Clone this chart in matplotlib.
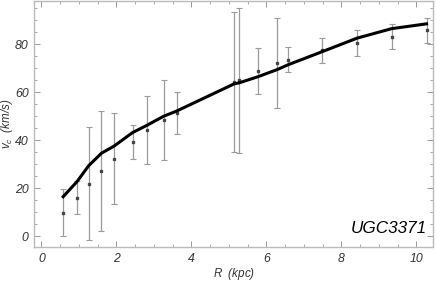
import numpy as np
import matplotlib
matplotlib.use("Agg")
matplotlib.rcParams.update({
    "font.family": ["Liberation Sans", "DejaVu Sans"],
    "mathtext.fontset": "custom",
    "mathtext.rm": "Liberation Sans",
    "mathtext.it": "Liberation Sans:italic",
})
import matplotlib.pyplot as plt
from matplotlib.ticker import MultipleLocator

# observed rotation curve of UGC3371
r_obs = [0.58, 0.95, 1.26, 1.60, 1.94, 2.43, 2.81, 3.26, 3.61,
         5.14, 5.27, 5.78, 6.28, 6.57, 7.47, 8.41, 9.34, 10.27]
v_obs = [9.8, 16.1, 21.9, 27.1, 32.4, 39.4, 44.2, 48.5, 51.2,
         64.2, 65.1, 68.9, 72.1, 73.6, 77.5, 80.5, 83.2, 85.8]
v_err = [9.8, 7.0, 23.5, 24.9, 19.0, 7.1, 14.1, 16.8, 8.7,
         29.1, 30.2, 9.6, 18.8, 5.3, 5.2, 5.3, 5.2, 5.3]

# model curve
v_fit = [16.5, 22.8, 29.4, 34.6, 37.6, 43.2, 46.2, 50.0, 52.2,
         63.5, 63.9, 66.5, 69.4, 71.4, 76.8, 82.5, 86.5, 88.5]

galaxy = "UGC3371"

fig = plt.figure(figsize=(4.36, 2.82), dpi=100)
ax = fig.add_axes([0.0787, 0.123, 0.915, 0.875])

ax.errorbar(r_obs, v_obs, yerr=v_err, fmt="s", ms=1.6, color="#444444",
            ecolor="#9a9a9a", elinewidth=0.9, capsize=2.2, capthick=0.8,
            zorder=2)
ax.plot(r_obs, v_fit, color="black", lw=2.2, solid_joinstyle="round", zorder=3)

ax.set_xlim(-0.19, 10.45)
ax.set_ylim(-4.6, 98.2)
ax.xaxis.set_major_locator(MultipleLocator(2))
ax.xaxis.set_minor_locator(MultipleLocator(0.5))
ax.yaxis.set_major_locator(MultipleLocator(20))
ax.yaxis.set_minor_locator(MultipleLocator(5))

frame_col = "#bbbbbb"
for s in ax.spines.values():
    s.set_color(frame_col)
    s.set_linewidth(1.0)
ax.tick_params(which="both", direction="in", top=True, right=True,
               color="#999999", labelcolor="#333333", labelsize=8.8)
ax.tick_params(which="major", length=4, width=0.7, pad=4)
ax.tick_params(which="minor", length=2.3, width=0.6)
for lab in ax.get_xticklabels() + ax.get_yticklabels():
    lab.set_style("italic")

ax.set_xlabel(r"$R$  (kpc)", fontsize=8.4, style="italic", color="#333333",
              labelpad=1)
ax.set_ylabel(r"$v_c$  (km/s)", fontsize=8.4, style="italic", color="#333333",
              labelpad=0)

ax.text(0.985, 0.045, galaxy, transform=ax.transAxes, ha="right", va="bottom",
        fontsize=12.3, style="italic", color="black")

fig.savefig("out.png", dpi=100)
